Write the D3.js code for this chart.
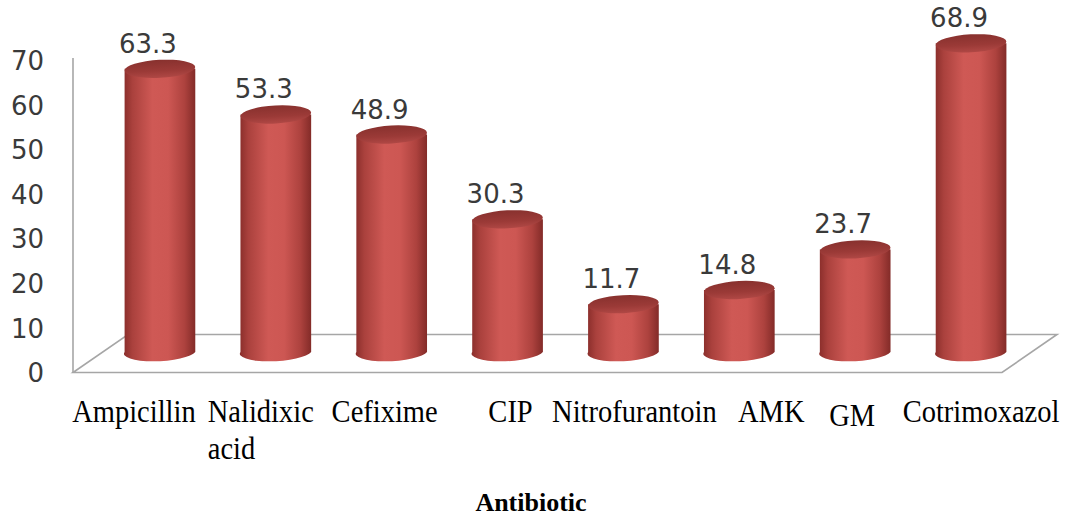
<!DOCTYPE html>
<html><head><meta charset="utf-8">
<script src="https://cdn.jsdelivr.net/npm/d3@7"></script>
<style>body{margin:0;background:#fff;}svg{display:block;}</style>
</head><body>
<svg id="c" width="1071" height="518"></svg>
<script>
const categories = ["Ampicillin", "Nalidixic acid", "Cefixime", "CIP", "Nitrofurantoin", "AMK", "GM", "Cotrimoxazol"];
const values = [63.3, 53.3, 48.9, 30.3, 11.7, 14.8, 23.7, 68.9];
const yTicks = [0, 10, 20, 30, 40, 50, 60, 70];
const axisTitle = "Antibiotic";

const svg = d3.select("#c");
const defs = svg.append("defs");

const yAxisScale = d3.scaleLinear().domain([0, 70]).range([372.5, 60]);
const yBar = d3.scaleLinear().domain([0, 70]).range([357.5, 38.3]);
const x = d3.scaleBand().domain(categories).range([102, 1029]).paddingInner(0.39).paddingOuter(0.195);

const depthDx = 55, depthDy = -38;
const floorLeft = 73, floorRight = 1002;
const y0 = yAxisScale(0);

// floor
const gridColor = "#a6a6a6";
svg.append("path")
  .attr("d", `M${floorLeft},${y0} L${floorRight},${y0} L${floorRight + depthDx},${y0 + depthDy} L${floorLeft + depthDx},${y0 + depthDy} Z`)
  .attr("fill", "none").attr("stroke", gridColor).attr("stroke-width", 1.6);

// y axis
const yAxis = d3.axisLeft(yAxisScale).tickValues(yTicks).tickSize(0).tickPadding(29).tickFormat(d3.format("d"));
const gy = svg.append("g").attr("transform", `translate(${floorLeft},0)`).call(yAxis);
gy.select(".domain").attr("stroke", gridColor).attr("stroke-width", 1.6).attr("d", `M0,${yAxisScale(70) - 2}V${y0}`);
gy.selectAll("text").attr("font-family", "DejaVu Sans").attr("font-size", 26).attr("fill", "#3a3a3a").attr("dy", "0.36em");

// gradients
const bodyGrad = defs.append("linearGradient").attr("id", "bodyGrad").attr("x1", 0).attr("x2", 1).attr("y1", 0).attr("y2", 0);
[[0, "#8a2e2b"], [0.12, "#aa413d"], [0.4, "#cf5955"], [0.62, "#cd5753"], [0.85, "#ad423e"], [1, "#832b28"]]
  .forEach(([o, c]) => bodyGrad.append("stop").attr("offset", o).attr("stop-color", c));
const topGrad = defs.append("linearGradient").attr("id", "topGrad").attr("x1", 0).attr("x2", 0).attr("y1", 0).attr("y2", 1);
[[0, "#88312e"], [0.6, "#9b3a37"], [1, "#b04845"]]
  .forEach(([o, c]) => topGrad.append("stop").attr("offset", o).attr("stop-color", c));

const rx = x.bandwidth() / 2, ry = 9, tilt = -3;
const bottomY = 352;

const bars = svg.append("g").selectAll("g").data(categories).join("g");
bars.each(function (cat, i) {
  const g = d3.select(this);
  const cx = x(cat) + rx;
  const ty = yBar(values[i]);
  g.append("path")
    .attr("d", `M${cx - rx},${ty} L${cx - rx},${bottomY} A${rx},${ry} ${tilt} 0 0 ${cx + rx},${bottomY} L${cx + rx},${ty} Z`)
    .attr("fill", "url(#bodyGrad)");
  g.append("ellipse")
    .attr("cx", cx).attr("cy", ty).attr("rx", rx).attr("ry", ry)
    .attr("transform", `rotate(${tilt},${cx},${ty})`)
    .attr("fill", "url(#topGrad)");
  g.append("text")
    .attr("x", cx - 12).attr("y", ty - 16)
    .attr("text-anchor", "middle")
    .attr("font-family", "DejaVu Sans").attr("font-size", 26).attr("fill", "#3a3a3a")
    .text(values[i].toFixed(1));
});

// x labels (category text placed under each band, with small layout nudges as in the original)
const labelNudge = [-26, -15, -7, 3, 11, 32, -3, 10];
const labelG = svg.append("g");
categories.forEach((cat, i) => {
  const cx = x(cat) + rx + labelNudge[i];
  const words = cat === "Nalidixic acid" ? ["Nalidixic", "acid"] : [cat];
  const t = labelG.append("text")
    .attr("font-family", "Liberation Serif, Times New Roman, serif")
    .attr("font-size", 31).attr("fill", "#000");
  words.forEach((w, k) => t.append("tspan").attr("x", 0).attr("y", (cat === "GM" ? 426 : 422) + k * 37).text(w));
  let maxW = 0;
  t.selectAll("tspan").each(function () { maxW = Math.max(maxW, this.getComputedTextLength()); });
  const sx = 0.92;
  t.attr("transform", `translate(${cx - maxW * sx / 2},0) scale(${sx},1)`);
});

svg.append("text")
  .attr("x", 531).attr("y", 511)
  .attr("text-anchor", "middle")
  .attr("font-family", "Liberation Serif, Times New Roman, serif")
  .attr("font-weight", "bold").attr("font-size", 26)
  .text(axisTitle);
</script>
</body></html>
